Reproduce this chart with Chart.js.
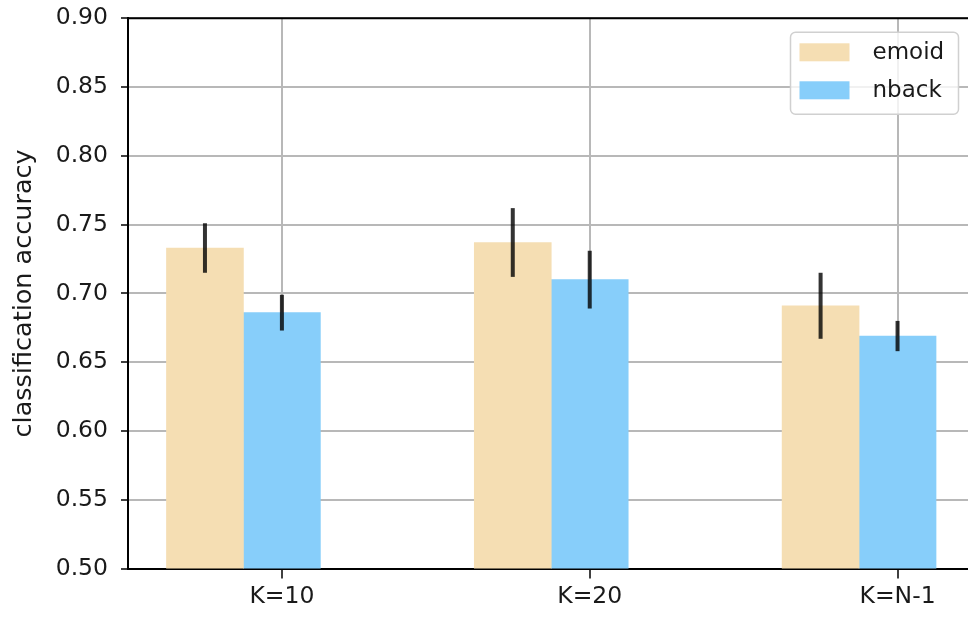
<!DOCTYPE html>
<html>
<head>
<meta charset="utf-8">
<script src="https://cdn.jsdelivr.net/npm/chart.js@4/dist/chart.umd.min.js"></script>
<style>
  html, body { margin: 0; padding: 0; background: #fff; overflow: hidden; }
  #wrap { width: 968px; height: 620px; overflow: hidden; }
</style>
</head>
<body>
<div id="wrap"><canvas id="acc-chart" width="1000" height="620"></canvas></div>
<script>
// Mean accuracy and standard error per K setting
const categories = ["K=10", "K=20", "K=N-1"];
const emoidAcc = [0.733, 0.737, 0.691];
const emoidErr = [0.018, 0.025, 0.024];
const nbackAcc = [0.686, 0.710, 0.669];
const nbackErr = [0.013, 0.021, 0.011];

const BAR_W = 0.25; // bar width in category units
const FONT = "'DejaVu Sans', sans-serif";

// Error bars, top spine and the framed legend drawn over the plot
const overlayPlugin = {
    id: "overlay",
    afterDraw(chart) {
        const ctx = chart.ctx;
        const area = chart.chartArea;
        const yScale = chart.scales.y;

        ctx.save();
        ctx.strokeStyle = "rgba(0,0,0,0.8)";
        ctx.lineWidth = 4;
        chart.data.datasets.forEach((ds, di) => {
            const meta = chart.getDatasetMeta(di);
            meta.data.forEach((bar, i) => {
                const v = ds.data[i].y;
                const e = ds.errors[i];
                ctx.beginPath();
                ctx.moveTo(bar.x, yScale.getPixelForValue(v + e));
                ctx.lineTo(bar.x, yScale.getPixelForValue(v - e));
                ctx.stroke();
            });
        });

        // top spine
        ctx.strokeStyle = "#000";
        ctx.lineWidth = 2;
        ctx.beginPath();
        ctx.moveTo(area.left, area.top);
        ctx.lineTo(area.right + 1, area.top);
        ctx.stroke();

        // legend
        const bx = area.right - 184, by = area.top + 14, bw = 168, bh = 82;
        ctx.fillStyle = "rgba(255,255,255,0.8)";
        ctx.strokeStyle = "#d0d0d0";
        ctx.lineWidth = 1.5;
        ctx.beginPath();
        ctx.roundRect(bx, by, bw, bh, 5);
        ctx.fill();
        ctx.stroke();

        ctx.font = "23px " + FONT;
        ctx.textBaseline = "middle";
        ctx.textAlign = "left";
        chart.data.datasets.forEach((ds, di) => {
            const rowY = by + 20 + di * 38;
            ctx.fillStyle = ds.backgroundColor;
            ctx.fillRect(bx + 9, rowY - 9, 50, 18);
            ctx.fillStyle = "#1a1a1a";
            ctx.fillText(ds.label, bx + 82, rowY + 1);
        });
        ctx.restore();
    }
};

const ctx = document.getElementById("acc-chart").getContext("2d");
new Chart(ctx, {
    type: "bar",
    data: {
        datasets: [
            {
                label: "emoid",
                data: emoidAcc.map((v, i) => ({ x: i - BAR_W, y: v })),
                errors: emoidErr,
                backgroundColor: "#f5deb3",
            },
            {
                label: "nback",
                data: nbackAcc.map((v, i) => ({ x: i, y: v })),
                errors: nbackErr,
                backgroundColor: "#87cefa",
            },
        ],
    },
    options: {
        responsive: false,
        animation: false,
        devicePixelRatio: 1,
        grouped: false,
        barPercentage: 1,
        categoryPercentage: 1,
        layout: { padding: { top: 18.3, right: 25.5, left: 0, bottom: 0 } },
        plugins: {
            legend: { display: false },
            tooltip: { enabled: false },
        },
        scales: {
            x: {
                type: "linear",
                min: -0.5,
                max: 2.25,
                offset: false,
                z: 1,
                afterBuildTicks: (scale) => {
                    scale.ticks = categories.map((c, i) => ({ value: i }));
                },
                afterFit: (scale) => {
                    scale.height = 51.5;
                    scale.paddingLeft = 0;
                    scale.paddingRight = 0;
                },
                ticks: {
                    callback: (value) => categories[value],
                    color: "#1a1a1a",
                    font: { family: FONT, size: 23.5 },
                    padding: 4,
                    maxRotation: 0,
                    autoSkip: false,
                },
                grid: {
                    offset: false,
                    color: "#b8b8b8",
                    lineWidth: 2,
                    tickLength: 10,
                    tickColor: "#000",
                    tickWidth: 1.5,
                },
                border: { color: "#000", width: 2 },
            },
            y: {
                min: 0.5,
                max: 0.9,
                z: 1,
                afterFit: (scale) => {
                    scale.width = 128;
                    scale.paddingTop = 0;
                    scale.paddingBottom = 0;
                },
                ticks: {
                    stepSize: 0.05,
                    callback: (value) => value.toFixed(2),
                    color: "#1a1a1a",
                    font: { family: FONT, size: 23.5 },
                    padding: 13,
                },
                grid: {
                    color: "#b8b8b8",
                    lineWidth: 2,
                    tickLength: 7,
                    tickColor: "#000",
                    tickWidth: 1.5,
                },
                border: { color: "#000", width: 2 },
                title: {
                    display: true,
                    text: "classification accuracy",
                    color: "#1a1a1a",
                    font: { family: FONT, size: 25.5 },
                    padding: { top: 9, bottom: 0 },
                },
            },
        },
    },
    plugins: [overlayPlugin],
});
</script>
</body>
</html>
